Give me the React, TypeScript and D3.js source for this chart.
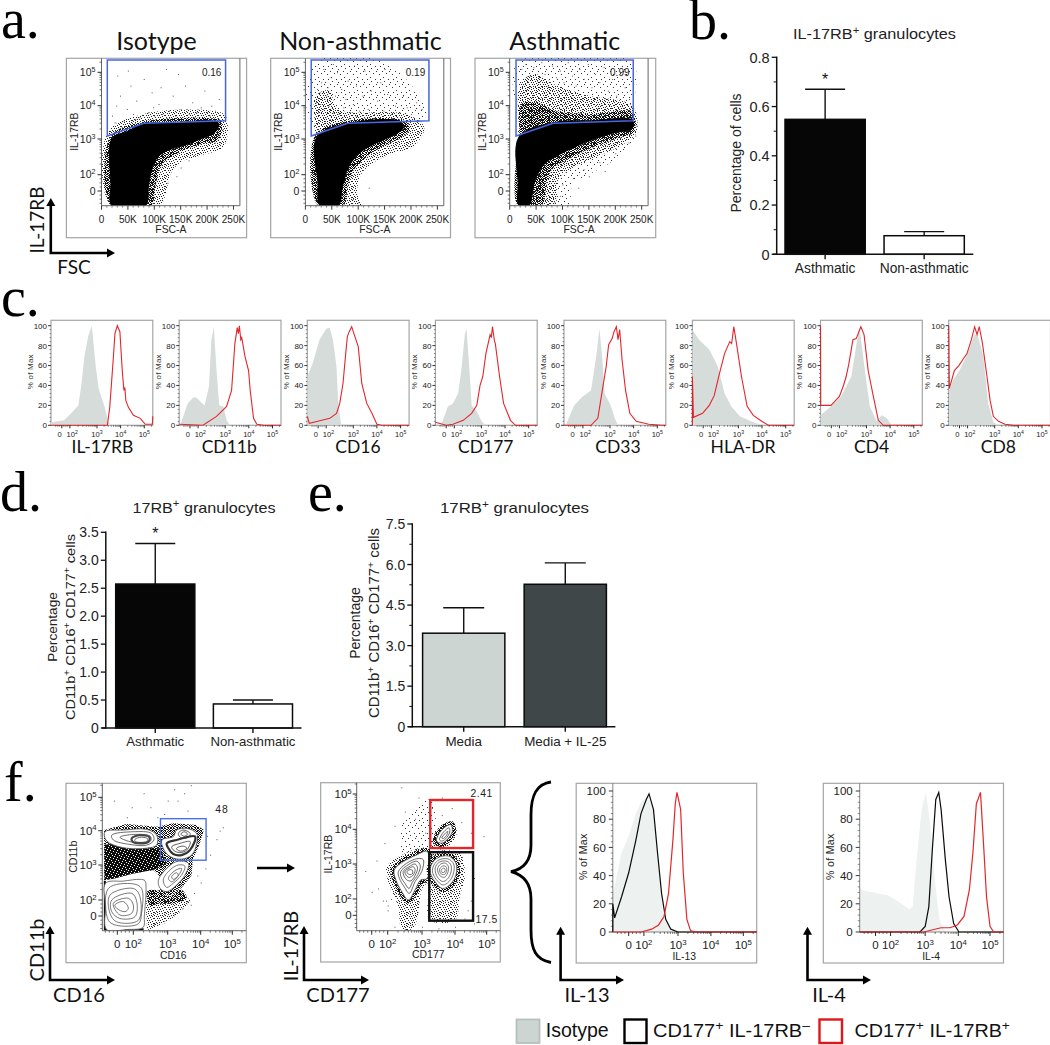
import React from "react";
import * as d3 from "d3";

type P = [number, number];

// ---------- Panel a data: FSC-A (thousands) vs IL-17RB (channel: 0 = 0, 1 = 10^2, 2 = 10^3 ...)
const fscTicks = [0, 50, 100, 150, 200, 250];
const aNames = ["Isotype", "Non-asthmatic", "Asthmatic"];
const aGateValues = ["0.16", "0.19", "0.99"];
const aGateIso: P[] = [[11, 2.09], [80, 2.47], [235, 2.55], [235, 4.37], [11, 4.37]];
const aGateNon: P[] = [[11, 2.09], [80, 2.47], [234, 2.55], [234, 4.37], [11, 4.37]];
const aGateAst: P[] = [[12, 2.09], [82, 2.47], [234, 2.55], [234, 4.37], [12, 4.37]];
const aCoreIso: P[] = [[20, 2.02], [48, 2.22], [79, 2.45], [143, 2.49], [206, 2.55], [222, 2.47], [216, 2.22], [183, 1.97], [159, 1.83], [127, 1.69], [107, 1.5], [95, 1.13], [89, 0.27], [83, -0.9], [20, -0.9], [18, 0.5]];
const aDenseIso: P[] = [[17, 2.07], [79, 2.52], [206, 2.62], [226, 2.55], [222, 2.0], [183, 1.83], [143, 1.6], [113, 1.25], [102, 0.27], [93, -0.9], [19, -0.9]];
const aMidIso: P[] = [[12, 2.2], [80, 2.75], [206, 2.85], [235, 2.7], [232, 1.8], [190, 1.55], [150, 1.35], [130, 1], [122, -0.14], [110, -0.9], [18, -0.9]];
const aCoreNon: P[] = [[22, 2.07], [82, 2.47], [181, 2.52], [185, 2.32], [161, 2.07], [133, 1.88], [102, 1.6], [82, 1.22], [70, 0.27], [62, -0.9], [28, -0.9], [24, 0.5]];
const aDenseNon: P[] = [[19, 2.12], [84, 2.55], [186, 2.55], [198, 2.32], [180, 2.02], [145, 1.78], [112, 1.45], [90, 1.1], [80, 0.2], [72, -0.9], [25, -0.9]];
const aMidNon: P[] = [[18, 2.3], [20, 3.3], [45, 3.45], [60, 2.9], [86, 2.8], [190, 2.75], [225, 2.35], [205, 1.8], [165, 1.6], [125, 1.3], [105, 1], [98, -0.14], [105, -0.9], [24, -0.9]];
const aSparseNon: P[] = [[18, 2.3], [18, 4.3], [150, 4.3], [225, 3], [225, 2.6]];
const aCoreAst: P[] = [[18, 2.07], [83, 2.49], [155, 2.55], [232, 2.57], [232, 2.32], [194, 2.17], [139, 1.88], [99, 1.6], [67, 1.32], [48, 0.67], [36, -0.9], [18, -0.9], [16, 0.5]];
const aDenseAst: P[] = [[18, 2.2], [22, 3.05], [50, 3.1], [85, 2.85], [155, 2.75], [232, 2.8], [235, 2.2], [210, 2.05], [155, 1.75], [107, 1.4], [83, 1.2], [71, 0.65], [60, -0.9], [16, -0.9]];
const aMidAst: P[] = [[18, 2.3], [20, 3.6], [45, 3.95], [90, 3.6], [150, 3.3], [232, 3.0], [240, 2.2], [215, 1.85], [165, 1.5], [120, 1.2], [92, 0.7], [85, -0.9], [40, -0.9]];
const aSparseAst: P[] = [[14, 2.6], [16, 4.3], [232, 4.3], [232, 2.6], [240, 2.2], [205, 1.5], [150, 1.0], [120, 0.5], [110, -0.9], [40, -0.9]];
const aDotsIso: P[] = [[20, 2.7], [28, 3.0], [35, 3.3], [42, 2.55], [48, 2.9], [55, 3.6], [60, 2.75], [66, 3.15], [72, 2.65], [80, 3.8], [88, 2.8], [95, 3.4], [100, 2.7], [108, 3.05], [115, 2.75], [122, 4.1], [128, 2.85], [135, 3.3], [140, 2.7], [150, 2.9], [158, 3.6], [165, 2.75], [172, 3.1], [180, 2.8], [188, 2.95], [195, 3.45], [200, 2.8], [208, 3.0], [215, 2.85], [222, 3.2], [30, 3.9], [50, 4.05], [112, 3.55], [145, 3.95], [25, 2.5], [64, 2.6], [98, 2.95], [130, 2.6], [176, 2.65], [205, 2.7], [142, 0.9], [175, 1.55], [215, 1.9], [222, 2.1], [230, 2.3], [165, 1.4], [150, 1.2], [125, 0.5]];
const aDotsNon: P[] = [[16, 2.4], [20, 3.1], [24, 2.8], [27, 3.4], [30, 3.7], [33, 2.9], [36, 3.2], [38, 2.65], [42, 3.55], [44, 3.0], [48, 3.85], [52, 2.8], [56, 3.3], [60, 4.0], [63, 2.75], [68, 3.5], [72, 2.95], [76, 3.2], [80, 3.75], [85, 2.8], [90, 3.05], [96, 3.6], [102, 2.85], [108, 3.3], [112, 4.05], [118, 2.9], [124, 3.45], [130, 2.75], [136, 3.15], [142, 3.7], [148, 2.85], [155, 3.35], [162, 2.75], [170, 3.0], [178, 2.8], [185, 3.3], [192, 2.95], [200, 2.75], [210, 3.1], [220, 2.9], [34, 4.1], [52, 4.25], [92, 4.2], [150, 4.1], [22, 3.5], [28, 3.05], [40, 3.3], [46, 2.6], [70, 2.65], [95, 2.7], [215, 2.2], [205, 2.0], [195, 1.8], [120, 0.2], [90, -0.5], [100, -0.7], [70, -0.8]];
const aDotsAst: P[] = [[22, 4.1], [30, 4.25], [38, 3.9], [45, 4.15], [52, 3.75], [60, 4.3], [66, 3.95], [72, 3.6], [80, 4.2], [88, 3.85], [95, 4.05], [102, 3.7], [110, 4.3], [118, 3.9], [125, 3.6], [132, 4.1], [140, 3.8], [148, 4.25], [155, 3.55], [162, 3.95], [170, 3.7], [178, 4.15], [186, 3.45], [194, 3.8], [202, 3.3], [210, 4.0], [218, 3.55], [226, 3.2], [240, 2.4], [238, 2.1], [225, 1.9], [200, 1.6], [170, 1.35], [140, 1.15], [120, 0.8], [100, 0.4], [95, -0.3], [130, 0.2], [150, 0.9], [180, 1.1], [85, -0.7], [110, -0.85]];

// ---------- Panel b / d / e bar data
const bCats = ["Asthmatic", "Non-asthmatic"];
const bVals = [0.548, 0.0755];
const bErrTop = [0.67, 0.092];
const bTicks = [0, 0.2, 0.4, 0.6, 0.8];
const bMinor = [0.1, 0.3, 0.5, 0.7];
const dCats = ["Asthmatic", "Non-asthmatic"];
const dVals = [2.575, 0.43];
const dErrTop = [3.3, 0.5];
const dTicks = [0, 0.5, 1, 1.5, 2, 2.5, 3, 3.5];
const eCats = ["Media", "Media + IL-25"];
const eVals = [3.46, 5.27];
const eErrTop = [4.4, 6.06];
const eTicks = [0, 1.5, 3, 4.5, 6, 7.5];
const eMinor = [0.75, 2.25, 3.75, 5.25, 6.75];

// ---------- Panel c histograms: [channel, % of max]
const cLabels = ["IL-17RB", "CD11b", "CD16", "CD177", "CD33", "HLA-DR", "CD4", "CD8"];
const c1Iso: P[] = [[-1.33, 3], [0.29, 5], [1.05, 12], [1.31, 20], [1.42, 40], [1.54, 70], [1.68, 90], [1.81, 100], [1.95, 60], [2.07, 37], [2.19, 28], [2.33, 18], [2.47, 4], [2.59, 0], [4.36, 0]];
const c1Red: P[] = [[-1.33, 0], [2.44, 0], [2.54, 18], [2.69, 67], [2.76, 92], [2.86, 100], [2.97, 94], [3.07, 55], [3.14, 35], [3.18, 38], [3.22, 25], [3.33, 18], [3.54, 10], [3.83, 7], [4.04, 1], [4.26, 1], [4.34, 1], [4.36, 9]];
const c2Iso: P[] = [[-1.2, 0], [-0.29, 22], [0.4, 28], [0.75, 28], [1.24, 20], [1.4, 39], [1.49, 86], [1.58, 99], [1.68, 55], [1.78, 20], [1.93, 19], [2.06, 5], [2.2, 0], [4.36, 0]];
const c2Red: P[] = [[-1.33, 1], [1.18, 0], [1.68, 9], [2.06, 19], [2.27, 35], [2.41, 82], [2.51, 98], [2.56, 92], [2.6, 100], [2.66, 86], [2.7, 88], [2.84, 69], [2.99, 55], [3.06, 35], [3.2, 7], [3.34, 1], [3.63, 0], [4.36, 0]];
const c3Iso: P[] = [[-1.33, 49], [-0.67, 62], [0.17, 86], [1, 97], [1.13, 98], [1.25, 86], [1.38, 59], [1.44, 25], [1.54, 2], [1.62, 0], [4.36, 0]];
const c3Red: P[] = [[-1.33, 9], [-1.08, 2], [-0.04, 4], [1.13, 7], [1.38, 12], [1.5, 22], [1.62, 42], [1.71, 69], [1.78, 89], [1.85, 94], [1.94, 99], [2.04, 91], [2.21, 79], [2.36, 42], [2.57, 22], [2.79, 12], [3, 1], [3.21, 0], [4.36, 0]];
const c4Iso: P[] = [[-0.63, 0], [0.21, 19], [0.83, 22], [1.14, 32], [1.26, 55], [1.39, 92], [1.45, 97], [1.55, 59], [1.64, 20], [1.83, 14], [2.01, 4], [2.16, 0], [4.36, 0]];
const c4Red: P[] = [[-1.33, 3], [0, 0], [0.83, 1], [1.33, 5], [1.64, 12], [1.83, 20], [1.95, 40], [2.06, 49], [2.19, 72], [2.37, 91], [2.42, 88], [2.47, 99], [2.55, 85], [2.59, 82], [2.77, 49], [2.94, 22], [3.23, 5], [3.44, 0], [4.36, 0]];
const c5Iso: P[] = [[-1.12, 0], [-0.08, 20], [0.96, 29], [1.3, 35], [1.49, 69], [1.61, 97], [1.71, 69], [1.8, 32], [2.03, 20], [2.2, 7], [2.34, 0], [4.36, 0]];
const c5Red: P[] = [[-1.33, 0], [1.3, 0], [1.55, 7], [1.74, 39], [1.86, 59], [1.95, 81], [2.09, 87], [2.17, 94], [2.27, 99], [2.34, 86], [2.41, 96], [2.51, 66], [2.66, 35], [2.84, 12], [3.11, 4], [3.64, 1], [4.2, 0], [4.36, 0]];
const c6Iso: P[] = [[-1.33, 96], [-0.5, 86], [0.75, 76], [1.24, 59], [1.49, 32], [1.74, 19], [2.06, 9], [2.63, 3], [3.06, 0], [4.36, 0]];
const c6Red: P[] = [[-1.33, 0], [-1.33, 49], [-1.2, 8], [-0.08, 12], [0.75, 20], [1.11, 30], [1.3, 52], [1.49, 72], [1.68, 84], [1.75, 82], [1.83, 99], [1.93, 82], [2.13, 49], [2.37, 19], [2.63, 10], [2.99, 4], [3.27, 0], [4.36, 0]];
const c7Iso: P[] = [[-1.33, 10], [-0.04, 19], [1.06, 29], [1.44, 49], [1.69, 92], [1.75, 97], [1.94, 55], [2.14, 19], [2.43, 4], [2.64, 10], [2.86, 7], [3.07, 0], [4.36, 0]];
const c7Red: P[] = [[-1.33, 100], [-1.3, 20], [-1.2, 20], [-0.04, 20], [1, 29], [1.15, 40], [1.25, 49], [1.35, 62], [1.5, 86], [1.62, 87], [1.79, 99], [1.91, 91], [2.07, 55], [2.29, 29], [2.5, 5], [2.71, 0], [4.36, 0]];
const c8Iso: P[] = [[-1.25, 35], [-0.83, 45], [0, 55], [0.83, 69], [1.26, 92], [1.39, 89], [1.58, 69], [1.76, 22], [1.95, 3], [2.16, 0], [4.36, 0]];
const c8Red: P[] = [[-1.33, 100], [-1.25, 37], [-0.63, 55], [-0.08, 60], [0.42, 66], [0.92, 72], [1.14, 86], [1.26, 99], [1.35, 91], [1.43, 99], [1.55, 82], [1.7, 52], [1.83, 25], [1.95, 9], [2.16, 4], [2.44, 1], [2.8, 0], [4.36, 0]];
const cIsoSeries = [c1Iso, c2Iso, c3Iso, c4Iso, c5Iso, c6Iso, c7Iso, c8Iso];
const cRedSeries = [c1Red, c2Red, c3Red, c4Red, c5Red, c6Red, c7Red, c8Red];

// ---------- Panel f histograms
const il13Iso: P[] = [[-1.05, 27], [-0.81, 39], [-0.47, 56], [0, 68], [0.47, 84], [0.81, 92], [1.12, 97], [1.28, 86], [1.43, 46], [1.54, 16], [1.64, 9], [1.79, 1], [1.95, 0], [4.41, 0]];
const il13Black: P[] = [[-1.05, 0], [-1.05, 20], [-0.93, 10], [-0.47, 25], [0, 42], [0.47, 65], [0.81, 84], [1.07, 94], [1.15, 98], [1.28, 87], [1.4, 56], [1.52, 27], [1.64, 9], [1.79, 2], [2, 0], [4.41, 0]];
const il13Red: P[] = [[-1.05, 0], [0.81, 0], [1.23, 2], [1.43, 5], [1.59, 11], [1.72, 27], [1.85, 65], [1.92, 91], [1.97, 99], [2.08, 87], [2.16, 42], [2.27, 9], [2.38, 1], [2.54, 0], [4.41, 0]];
const il4Iso: P[] = [[-1.05, 31], [-0.7, 29], [-0.12, 28], [0.3, 27], [0.81, 26], [1.23, 21.5], [1.54, 16], [1.64, 18], [1.74, 49], [1.9, 87], [2.02, 99], [2.14, 79], [2.29, 37], [2.43, 9], [2.54, 3], [2.65, 0], [4.41, 0]];
const il4Black: P[] = [[-1.05, 0], [1.85, 0], [2, 4], [2.11, 18], [2.22, 60], [2.32, 94], [2.41, 99], [2.48, 87], [2.61, 51], [2.72, 25], [2.86, 6], [3.02, 0], [4.41, 0]];
const il4Red: P[] = [[-1.05, 0], [1.95, 0], [2.48, 3], [2.75, 3], [2.97, 5], [3.18, 11], [3.35, 30], [3.46, 56], [3.57, 91], [3.62, 94], [3.7, 99], [3.8, 61], [3.89, 25], [4, 4], [4.11, 0], [4.41, 0]];

// ---------- Panel f contour plots (channels)
const f1Gate = { x: [1.79, 3.17], y: [2.14, 3.36] };
const f1Dark: P[] = [[-0.83, 3.02], [0.58, 3.2], [1.68, 3.12], [2.17, 3.22], [2.88, 3.17], [3.1, 3.02], [2.97, 2.63], [2.76, 2.15], [2.72, 1.7], [2.42, 1.35], [2.07, 1.12], [1.75, 1.2], [1.75, 1.7], [1.58, 1.86], [1, 1.76], [-0.25, 1.61], [-0.83, 1.57]];
const f1BlackZone: P[] = [[-0.8, 2.6], [0.17, 2.63], [1.29, 2.49], [1.78, 2.49], [1.97, 2.05], [1.58, 1.86], [1, 1.76], [-0.25, 1.61], [-0.8, 1.57]];
const f1LowDark: P[] = [[1.42, 1.27], [1.75, 1.27], [2.05, 1.1], [2.4, 1.3], [2.58, 1.05], [2.2, 0.8], [1.7, 0.75], [1.5, 0.6], [1.42, 0.9]];
const f1Low: P[] = [[1.39, 1.27], [2.4, 1.25], [2.7, 0.95], [2.35, 0.2], [1.95, -0.4], [1.4, -0.85], [1.37, 0.5]];
const f1Edge: P[] = [[-0.78, 1.55], [-0.78, -0.8], [1.3, -0.8]];
const f1Bridge: P[] = [[1.29, 1.6], [1.78, 1.68], [1.78, 1.3], [1.29, 1.3]];
const f1TopBand: P[][] = [
  [[-0.77, 2.97], [0.38, 3.02], [1.39, 3.04], [1.68, 2.87], [1.68, 2.58], [1.39, 2.49], [0.58, 2.49], [-0.46, 2.63], [-0.77, 2.78]],
  [[-0.35, 2.87], [1, 2.97], [1.53, 2.92], [1.6, 2.73], [1.39, 2.58], [0.79, 2.6], [-0.25, 2.73]],
  [[0.17, 2.81], [1, 2.89], [1.49, 2.84], [1.51, 2.71], [1.29, 2.65], [0.79, 2.68]],
  [[0.9, 2.78], [1.19, 2.87], [1.47, 2.81], [1.44, 2.68], [1.19, 2.63], [0.96, 2.68]],
  [[1.05, 2.75], [1.24, 2.81], [1.42, 2.76], [1.39, 2.69], [1.19, 2.66], [1.05, 2.69]],
];
const f1GateCluster: P[][] = [
  [[1.83, 2.73], [2.17, 2.83], [2.27, 3.02], [2.58, 3.07], [2.88, 2.92], [2.88, 2.63], [2.73, 2.29], [2.42, 2.17], [2.12, 2.22], [1.92, 2.39]],
  [[2.32, 2.92], [2.47, 3.02], [2.68, 2.92], [2.63, 2.81], [2.42, 2.78]],
  [[2.4, 2.9], [2.5, 2.97], [2.6, 2.9], [2.5, 2.84]],
  [[1.97, 2.63], [2.27, 2.73], [2.83, 2.83], [2.68, 2.44], [2.42, 2.29], [2.17, 2.32], [2.02, 2.49]],
  [[2.12, 2.53], [2.37, 2.63], [2.68, 2.68], [2.58, 2.44], [2.37, 2.36], [2.19, 2.42]],
  [[2.27, 2.49], [2.47, 2.55], [2.58, 2.49], [2.45, 2.41], [2.32, 2.42]],
];
const f1MidCluster: P[][] = [
  [[1.73, 1.57], [1.97, 1.9], [2.27, 2.1], [2.63, 2.05], [2.52, 1.71], [2.27, 1.43], [1.97, 1.24], [1.78, 1.33]],
  [[1.87, 1.57], [2.07, 1.86], [2.32, 2], [2.52, 1.97], [2.42, 1.71], [2.17, 1.48], [1.97, 1.36]],
  [[2.02, 1.62], [2.22, 1.84], [2.42, 1.9], [2.32, 1.69], [2.12, 1.52]],
  [[2.12, 1.67], [2.27, 1.78], [2.32, 1.71], [2.17, 1.59]],
];
const f1LowCluster: P[][] = [
  [[-0.73, 1.48], [0.38, 1.54], [1.2, 1.59], [1.34, 1.55], [1.37, 1.29], [1.32, 0], [1.29, -0.67], [0.58, -0.81], [-0.67, -0.81], [-0.73, 0.58]],
  [[-0.56, 1.33], [1, 1.46], [1.24, 1.33], [1.24, 0.17], [1.15, -0.46], [-0.04, -0.56], [-0.56, -0.25]],
  [[-0.46, 1.14], [1, 1.33], [1.18, 1.14], [1.15, -0.25], [-0.04, -0.35], [-0.46, 0.17]],
  [[-0.35, 1], [0.9, 1.19], [1.1, 0.9], [1.05, -0.04], [0.17, -0.15], [-0.35, 0.27]],
  [[-0.25, 0.79], [0.69, 1.05], [1, 0.69], [0.9, 0.17], [0.17, 0.06]],
  [[-0.15, 0.69], [0.38, 0.9], [0.69, 0.48], [0.48, 0.27], [-0.04, 0.48]],
];
const f1Dots: P[] = [[1.3, 4.1], [1.5, 3.7], [1.9, 3.5], [2.2, 4.2], [2.3, 3.9], [2.5, 4.1], [2.6, 3.6], [2.7, 4.3], [1.7, 3.4], [2.0, 3.9], [3.6, 3.0], [3.2, 2.85], [3.5, 2.75], [3.7, 3.1], [0.6, 3.4], [0.9, 3.7], [-0.2, 3.9], [3.3, 2.3], [3.15, 1.9], [2.9, 1.7], [2.8, 1.2], [2.6, 0.9], [2.45, 0.5], [2.2, 0.1], [1.9, -0.3], [1.6, -0.5], [2.7, 0.7], [3, 1.5]];
const f2GateRed = { x: [2.25, 3.57], y: [2.46, 3.83] };
const f2GateBlack = { x: [2.22, 3.57], y: [-0.33, 2.34] };
const f2HaloLeft: P[] = [[0.94, 1.92], [1.41, 2.26], [2.14, 2.45], [2.19, 1.54], [1.99, 1.26], [1.89, 0.12], [1.74, -0.8], [1.41, -0.8], [1.31, 0.53], [1.06, 1.35]];
const f2HaloRight: P[] = [[2.19, 2.26], [3.15, 2.31], [3.31, 1.64], [3.15, 1.07], [3, -0.29], [2.24, -0.29], [2.19, 1.26]];
const f2HaloUp: P[] = [[2.29, 2.5], [2.54, 3.08], [2.95, 3.22], [3.05, 2.88], [2.75, 2.45]];
const f2Scatter: P[] = [[1.41, 3.08], [2.24, 3.84], [2.34, 2.5], [1.56, 2.12]];
const f2LeftCluster: P[][] = [
  [[1.19, 1.83], [1.46, 2.07], [1.84, 2.26], [2.16, 2.36], [2.16, 1.59], [1.96, 1.54], [1.8, 1.26], [1.6, 0.94], [1.41, 1.21], [1.24, 1.54]],
  [[1.31, 1.78], [1.55, 2.02], [1.89, 2.16], [2.04, 2.12], [1.99, 1.78], [1.8, 1.5], [1.63, 1.16], [1.48, 1.35], [1.34, 1.59]],
  [[1.38, 1.78], [1.6, 1.98], [1.85, 2.08], [1.95, 1.95], [1.88, 1.7], [1.72, 1.48], [1.62, 1.3], [1.5, 1.45], [1.4, 1.6]],
  [[1.45, 1.78], [1.62, 1.92], [1.8, 2.0], [1.87, 1.88], [1.8, 1.68], [1.68, 1.52], [1.55, 1.55]],
  [[1.5, 1.78], [1.63, 1.88], [1.75, 1.92], [1.8, 1.82], [1.72, 1.66], [1.6, 1.62]],
  [[1.56, 1.78], [1.65, 1.84], [1.72, 1.82], [1.72, 1.72], [1.62, 1.7]],
];
const f2RightCluster: P[][] = [
  [[2.26, 1.92], [2.44, 2.16], [2.8, 2.23], [3.03, 2.02], [3.03, 1.69], [2.87, 1.43], [2.63, 1.3], [2.39, 1.5], [2.26, 1.73]],
  [[2.33, 1.9], [2.48, 2.1], [2.78, 2.15], [2.96, 2], [2.95, 1.72], [2.82, 1.5], [2.63, 1.4], [2.43, 1.56], [2.33, 1.73]],
  [[2.4, 1.88], [2.52, 2.05], [2.76, 2.08], [2.88, 1.96], [2.87, 1.74], [2.76, 1.56], [2.63, 1.5], [2.47, 1.62]],
  [[2.47, 1.86], [2.57, 2], [2.72, 2.02], [2.8, 1.92], [2.78, 1.75], [2.68, 1.62], [2.55, 1.66]],
  [[2.53, 1.84], [2.62, 1.94], [2.72, 1.93], [2.75, 1.82], [2.68, 1.7], [2.58, 1.72]],
  [[2.58, 1.82], [2.65, 1.88], [2.7, 1.85], [2.68, 1.77], [2.61, 1.76]],
];
const f2UpperCluster: P[][] = [
  [[2.44, 2.67], [2.6, 2.98], [2.87, 3.13], [2.92, 2.94], [2.75, 2.69], [2.6, 2.6]],
  [[2.53, 2.7], [2.66, 2.93], [2.82, 3.04], [2.84, 2.92], [2.72, 2.73], [2.6, 2.66]],
  [[2.6, 2.75], [2.7, 2.88], [2.78, 2.94], [2.76, 2.86], [2.66, 2.74]],
];
const f2Dots: P[] = [[-0.4, 1.8], [0.4, 1.3], [0.7, 0.9], [1.0, 0.3], [0.3, 2.1], [0.8, 2.6], [1.2, 3.1], [1.5, 3.5], [1.8, 3.3], [1.9, 3.9], [2.1, 2.9], [1.4, 4.2], [2.3, 3.6], [2.6, 3.4], [3.2, 3.2], [3.5, 2.9], [3.9, 2.8], [3.6, 1.6], [3.5, 0.9], [3.4, 0.3], [3.3, -0.2], [3.6, -0.5], [1.2, -0.7], [1.5, -0.85], [1.7, -0.6], [2, -0.7], [2.5, -0.8], [3, -0.7], [0.9, 0.9], [1, 0.6], [1.1, 1], [0, 1.2], [2.9, 3.6], [2.6, 3.9]];

// ---------- shared labels
const decades = [0, 1, 2, 3, 4];
const pctTicks = [0, 20, 40, 60, 80, 100];
const serif = "'Liberation Serif', serif";
const sans = "'Liberation Sans', Arial, sans-serif";
const calibri = "Lato, sans-serif";
const RED = "#e3262b";
const ISO = "#d5dcda";
const FRAME = "#a3a5a5";

// stipple textures (style only): occupied cells per row of a tile
const denseRows = [[0, 2, 3, 6, 8], [1, 4, 5, 7], [0, 2, 3, 6, 8], [1, 3, 5, 7, 8], [0, 2, 4, 6], [1, 3, 4, 7, 8], [0, 2, 5, 6], [1, 3, 4, 7], [0, 2, 5, 6, 8]];
const midRows = [[1, 5, 8], [3, 10], [0, 6, 8], [2, 4, 9], [7], [0, 3, 5, 10], [8], [1, 4, 6], [9], [2, 5, 7], [0, 3, 10]];
const sparseRows = [[], [3, 11], [], [7], [0], [], [5, 12], [], [9], [2], [], [], [6]];
const whiteSpecks = [[0, 1], [3, 0], [5, 3], [1, 4], [4, 5], [2, 2], [6, 6]];

const minorChannels = (() => {
  const out: number[] = [-0.75, -0.5, -0.25, 0.25, 0.5, 0.75];
  for (let n = 1; n <= 4; n++) for (let m = 2; m <= 9; m++) out.push(n + Math.log10(m));
  return out;
})();

const closedLine = (x: any, y: any) => d3.line<P>().x((d) => x(d[0])).y((d) => y(d[1])).curve(d3.curveLinearClosed);
const smoothLine = (x: any, y: any) => d3.line<P>().x((d) => x(d[0])).y((d) => y(d[1])).curve(d3.curveCatmullRomClosed.alpha(0.5));

function Tile({ id, rows, fill = "#111" }: any) {
  return (
    <pattern id={id} width={rows.length} height={rows.length} patternUnits="userSpaceOnUse">
      {rows.map((r: number[], b: number) => r.map((a: number) => (
        <rect key={`${a}-${b}`} x={a} y={b} width={1} height={1} fill={fill} />
      )))}
    </pattern>
  );
}

function Exp({ x, y, e, fs, anchor = "middle", fill = "#222" }: any) {
  return (
    <text x={x} y={y} fontSize={fs} fontFamily={sans} textAnchor={anchor} fill={fill}>
      10<tspan dy={-fs * 0.38} fontSize={fs * 0.68}>{e}</tspan>
    </text>
  );
}

function DecadeY({ y, x, labelX, fs, tick = 4 }: any) {
  const [lo, hi] = [y.domain()[0], y.domain()[y.domain().length - 1]];
  return (
    <g>
      {minorChannels.filter((u) => u > lo && u < hi).map((u) => (
        <line key={u} x1={x - tick / 2} x2={x} y1={y(u)} y2={y(u)} stroke="#222" strokeWidth={0.6} />
      ))}
      {decades.map((u) => (
        <g key={u}>
          <line x1={x - tick} x2={x} y1={y(u)} y2={y(u)} stroke="#111" strokeWidth={0.9} />
          {u === 0 ? (
            <text x={labelX} y={y(u) + fs * 0.36} fontSize={fs} fontFamily={sans} textAnchor="end" fill="#222">0</text>
          ) : (
            <Exp x={labelX} y={y(u) + fs * 0.36} e={u + 1} fs={fs} anchor="end" />
          )}
        </g>
      ))}
    </g>
  );
}

function DecadeX({ x, y, labelY, fs, tick = 4, nudge = 0 }: any) {
  const dom = x.domain();
  const [lo, hi] = [dom[0], dom[dom.length - 1]];
  return (
    <g>
      {minorChannels.filter((u) => u > lo && u < hi).map((u) => (
        <line key={u} y1={y} y2={y + tick / 2} x1={x(u)} x2={x(u)} stroke="#222" strokeWidth={0.6} />
      ))}
      {decades.map((u) => (
        <g key={u}>
          <line y1={y} y2={y + tick} x1={x(u)} x2={x(u)} stroke="#111" strokeWidth={0.9} />
          {u === 0 ? (
            <text x={x(u) - nudge} y={labelY} fontSize={fs} fontFamily={sans} textAnchor="middle" fill="#222">0</text>
          ) : (
            <Exp x={x(u) + (u === 1 ? nudge : 0)} y={labelY} e={u + 1} fs={fs} />
          )}
        </g>
      ))}
    </g>
  );
}

function PctY({ y, x, labelX, fs, tick }: any) {
  return (
    <g>
      {d3.range(0, 101, 4).map((v) => (
        <line key={v} x1={x - (v % 20 === 0 ? tick : tick / 2)} x2={x} y1={y(v)} y2={y(v)} stroke="#222" strokeWidth={v % 20 === 0 ? 0.9 : 0.5} />
      ))}
      {pctTicks.map((v) => (
        <text key={v} x={labelX} y={y(v) + fs * 0.36} fontSize={fs} fontFamily={sans} textAnchor="end" fill="#222">{v}</text>
      ))}
    </g>
  );
}

function LArrow({ x, y, top, right, sw = 2.6 }: any) {
  return (
    <g fill="#000">
      <path d={`M${x},${top + 6}V${y}H${right - 6}`} fill="none" stroke="#000" strokeWidth={sw} />
      <polygon points={`${x},${top} ${x - 4.5},${top + 8} ${x + 4.5},${top + 8}`} />
      <polygon points={`${right},${y} ${right - 8},${y - 4.5} ${right - 8},${y + 4.5}`} />
    </g>
  );
}

function Dots({ data, x, y, size = 0.9 }: any) {
  return (
    <g fill="#333">
      {data.map((d: P, i: number) => (
        <rect key={i} x={x(d[0])} y={y(d[1])} width={size} height={size} />
      ))}
    </g>
  );
}

function ScatterPanel({ idx, left, frameL, frameR, gate, core, dense, mid, sparse, dots, name, value }: any) {
  const x = d3.scaleLinear().domain([0, 262.144]).range([left, left + 138.4]);
  const y = d3.scaleLinear().domain([-0.9, 0, 1, 2, 3, 4, 4.42]).range([205.7, 191, 174.7, 139, 105.7, 72.3, 58.3]);
  const line = closedLine(x, y);
  const sm = smoothLine(x, y);
  const clip = `a-clip-${idx}`;
  return (
    <g>
      <rect x={frameL} y={58.3} width={frameR - frameL} height={179.4} fill="#fff" stroke={FRAME} strokeWidth={1.2} />
      <defs>
        <clipPath id={clip}><rect x={left} y={58.3} width={138.4} height={147.4} /></clipPath>
      </defs>
      <g clipPath={`url(#${clip})`}>
        <g filter="url(#soft)">
          {sparse && <path d={sm(sparse) as string} fill="url(#stippleSparse)" />}
          {mid && <path d={sm(mid) as string} fill="url(#stippleMid)" />}
          <path d={sm(dense) as string} fill="url(#stippleDense)" />
          <path d={sm(core) as string} fill="#060606" stroke="#060606" />
          <Dots data={dots} x={x} y={y} />
        </g>
      </g>
      <path d={`M${left},58.3V205.7H${left + 138.4}V58.3`} fill="none" stroke="#666" strokeWidth={1} />
      <path d={line(gate) as string} fill="none" stroke="#4766e0" strokeWidth={1.5} />
      <DecadeY y={y} x={left} labelX={left - 6} fs={10.5} />
      {d3.range(0, 251, 10).map((k) => (
        <line key={k} x1={x(k)} x2={x(k)} y1={205.7} y2={k % 50 === 0 ? 209.7 : 207.7} stroke="#222" strokeWidth={k % 50 === 0 ? 0.9 : 0.5} />
      ))}
      {fscTicks.map((k) => (
        <text key={k} x={x(k)} y={223} fontSize={10} fontFamily={sans} textAnchor="middle" fill="#222">{k === 0 ? "0" : `${k}K`}</text>
      ))}
      <text x={left + 69.4} y={233.3} fontSize={10.4} fontFamily={sans} textAnchor="middle" fill="#222">FSC-A</text>
      <text transform={`translate(${left - 23.5},131.7) rotate(-90)`} fontSize={10.4} fontFamily={sans} textAnchor="middle" fill="#222">IL-17RB</text>
      <text x={x(227)} y={76} fontSize={10} fontFamily={sans} textAnchor="end" fill="#222">{value}</text>
      <text x={left + 55} y={50} fontSize={25} fontFamily={calibri} textAnchor="middle" fill="#111">{name}</text>
    </g>
  );
}

function Bars({ cats, vals, errTop, range, y, barFill, stroke = 1.5, axisX, axisRight, ticks, minor, fs, capHalf, star, labelY, labelFs }: any) {
  const x = d3.scaleBand<string>().domain(cats).range(range).paddingInner(0.19).paddingOuter(0);
  const y0 = y(0);
  return (
    <g>
      {cats.map((c: string, i: number) => {
        const cx = (x(c) as number) + x.bandwidth() / 2;
        return (
          <g key={c}>
            <line x1={cx} x2={cx} y1={y(vals[i])} y2={y(errTop[i])} stroke="#111" strokeWidth={1.4} />
            <line x1={cx - capHalf} x2={cx + capHalf} y1={y(errTop[i])} y2={y(errTop[i])} stroke="#111" strokeWidth={1.4} />
            <rect x={x(c)} y={y(vals[i])} width={x.bandwidth()} height={y0 - y(vals[i])} fill={barFill[i]} stroke="#0a0a0a" strokeWidth={stroke} />
            <line x1={cx} x2={cx} y1={y0} y2={y0 + 5} stroke="#111" strokeWidth={1.4} />
            <text x={cx} y={labelY} fontSize={labelFs} fontFamily={sans} textAnchor="middle" fill="#222">{c}</text>
            {star && i === 0 && <text x={cx} y={y(errTop[i]) - 4} fontSize={16} fontFamily={sans} textAnchor="middle" fill="#111">*</text>}
          </g>
        );
      })}
      <line x1={axisX} x2={axisX} y1={y(ticks[ticks.length - 1]) - 0.7} y2={y0 + 0.7} stroke="#111" strokeWidth={1.5} />
      <line x1={axisX - 4} x2={axisRight} y1={y0} y2={y0} stroke="#111" strokeWidth={1.5} />
      {ticks.map((t: number) => (
        <g key={t}>
          <line x1={axisX - 5} x2={axisX} y1={y(t)} y2={y(t)} stroke="#111" strokeWidth={1.3} />
          <text x={axisX - 7} y={y(t) + fs * 0.36} fontSize={fs} fontFamily={sans} textAnchor="end" fill="#222">{t === 0 ? "0" : t.toFixed(1)}</text>
        </g>
      ))}
      {(minor || []).map((t: number) => (
        <line key={t} x1={axisX - 3} x2={axisX} y1={y(t)} y2={y(t)} stroke="#111" strokeWidth={1} />
      ))}
    </g>
  );
}

function Histo({ left, iso, red, label, labelX }: any) {
  const x = d3.scaleLinear().domain([-1.33, 0, 1, 2, 3, 4, 4.36]).range([left, left + 10.8, left + 18.9, left + 46, left + 69.6, left + 93.3, left + 101.8]);
  const y = d3.scaleLinear().domain([0, 100]).range([425.3, 325.7]);
  const area = d3.area<P>().x((d) => x(d[0])).y0(y(0)).y1((d) => y(d[1]));
  const line = d3.line<P>().x((d) => x(d[0])).y((d) => y(d[1]));
  return (
    <g>
      <rect x={left} y={320.3} width={101.8} height={105} fill="#fff" stroke={FRAME} strokeWidth={1.2} />
      <path d={area(iso) as string} fill={ISO} />
      <path d={line(red) as string} fill="none" stroke={RED} strokeWidth={1.1} />
      <PctY y={y} x={left} labelX={left - 4} fs={8} tick={3} />
      <DecadeX x={x} y={425.3} labelY={437} fs={7.6} tick={3} nudge={2.2} />
      <text transform={`translate(${left - 18.5},371.7) rotate(-90)`} fontSize={8} fontFamily={sans} textAnchor="middle" letterSpacing={0.2} fill="#333">% of Max</text>
      <text x={labelX} y={452.7} fontSize={17.5} fontFamily={calibri} textAnchor="middle" fill="#111">{label}</text>
    </g>
  );
}

function Contours({ rings, x, y, heavy = [] as number[], halo = true, color = "#2c2c2c" }: any) {
  const sm = smoothLine(x, y);
  return (
    <g>
      {halo && <path d={sm(rings[0]) as string} fill="none" stroke="url(#stippleDense)" strokeWidth={7} />}
      {rings.map((r: P[], i: number) => (
        <path key={i} d={sm(r) as string} fill="#fff" fillOpacity={i === 0 ? 1 : 0} stroke={color} strokeWidth={heavy.includes(i) ? 2.2 : 0.8} />
      ))}
    </g>
  );
}

function FlowHist({ left, plotLeft, right, iso, black, red, label, knots }: any) {
  const x = d3.scaleLinear().domain([-1.05, 0, 1, 2, 3, 4, 4.41]).range(knots);
  const y = d3.scaleLinear().domain([0, 100]).range([932, 791]);
  const area = d3.area<P>().x((d) => x(d[0])).y0(y(0)).y1((d) => y(d[1]));
  const line = d3.line<P>().x((d) => x(d[0])).y((d) => y(d[1]));
  return (
    <g>
      <rect x={left} y={783.3} width={right - left} height={179.7} fill="#fff" stroke={FRAME} strokeWidth={1.2} />
      <path d={area(iso) as string} fill="#edf1ef" />
      <path d={`M${plotLeft},783.3V932H${right}`} fill="none" stroke="#666" strokeWidth={0.8} />
      <path d={line(black) as string} fill="none" stroke="#0a0a0a" strokeWidth={1.2} />
      <path d={line(red) as string} fill="none" stroke={RED} strokeWidth={1.2} />
      <PctY y={y} x={plotLeft} labelX={plotLeft - 7} fs={11.5} tick={4} />
      <DecadeX x={x} y={932} labelY={949} fs={11.5} tick={4} />
      <text transform={`translate(${plotLeft - 26},856.7) rotate(-90)`} fontSize={10.6} fontFamily={sans} textAnchor="middle" letterSpacing={0.3} fill="#222">% of Max</text>
      <text x={(plotLeft + right) / 2 - 0.5} y={960} fontSize={10.4} fontFamily={sans} textAnchor="middle" fill="#222">{label}</text>
    </g>
  );
}

function Sup({ children, fs }: any) {
  return <tspan fontSize={fs * 0.7} dy={-fs * 0.36}>{children}</tspan>;
}
const Down = ({ fs, children }: any) => <tspan dy={fs * 0.36}>{children}</tspan>;

function PctLabel({ x1, x2, cy, fs, len }: any) {
  return (
    <g fontFamily={sans} fill="#222" fontSize={fs}>
      <text transform={`translate(${x1},${cy}) rotate(-90)`} textAnchor="middle">Percentage</text>
      <text transform={`translate(${x2},${cy}) rotate(-90)`} textAnchor="middle" textLength={len} lengthAdjust="spacingAndGlyphs">
        CD11b<Sup fs={fs}>+</Sup><Down fs={fs}> CD16</Down><Sup fs={fs}>+</Sup><Down fs={fs}> CD177</Down><Sup fs={fs}>+</Sup><Down fs={fs}> cells</Down>
      </text>
    </g>
  );
}

export default function App() {
  const by = d3.scaleLinear().domain([0, 0.8]).range([254.3, 57.3]);
  const dy = d3.scaleLinear().domain([0, 3.5]).range([728, 532.3]);
  const ey = d3.scaleLinear().domain([0, 7.5]).range([726.7, 524]);

  const f1x = d3.scaleLinear().domain([-0.94, 0, 1, 2, 3, 4, 4.44]).range([102.3, 117.3, 133.3, 167.7, 200.7, 232.3, 246.3]);
  const f1y = d3.scaleLinear().domain([-0.88, 0, 1, 2, 3, 4, 4.35]).range([930.7, 916, 900, 865, 830.7, 797.3, 783.3]);
  const f2x = d3.scaleLinear().domain([-0.94, 0, 1, 2, 3, 4, 4.43]).range([356.7, 371.7, 387.7, 422, 455, 486.7, 500.3]);
  const f2y = d3.scaleLinear().domain([-0.94, 0, 1, 2, 3, 4, 4.34]).range([930.7, 915.3, 899, 864, 829.3, 794, 782.7]);
  const f1s = smoothLine(f1x, f1y);
  const f1l = closedLine(f1x, f1y);
  const f2s = smoothLine(f2x, f2y);

  const cLefts = [51, 179.2, 307.3, 435.4, 564, 692.4, 820.5, 948.7];
  const cLabelX = [102.4, 229.2, 358, 485.8, 618, 743, 871.6, 998.4];

  return (
    <div style={{ position: "absolute", left: 0, top: 0, width: 1050, height: 1045, background: "#fff" }}>
      <svg width={1050} height={1045} viewBox="0 0 1050 1045" style={{ display: "block" }}>
        <defs>
          <Tile id="stippleDense" rows={denseRows} />
          <Tile id="stippleMid" rows={midRows} fill="#222" />
          <Tile id="stippleSparse" rows={sparseRows} fill="#333" />
          <pattern id="stippleBlack" width={7} height={7} patternUnits="userSpaceOnUse">
            <rect width={7} height={7} fill="#0a0a0a" />
            {whiteSpecks.map(([a, b], i) => (
              <rect key={i} x={a} y={b} width={1} height={1} fill="#fff" />
            ))}
          </pattern>
          <filter id="soft" x="-5%" y="-5%" width="110%" height="110%">
            <feGaussianBlur stdDeviation={0.45} />
          </filter>
          <filter id="softer" x="-5%" y="-5%" width="110%" height="110%">
            <feGaussianBlur stdDeviation={0.3} />
          </filter>
          <clipPath id="f1clip"><rect x={102.3} y={783.3} width={144} height={147.4} /></clipPath>
          <clipPath id="f2clip"><rect x={356.7} y={782.7} width={143.6} height={148} /></clipPath>
        </defs>

        {/* panel letters */}
        <g fontFamily={serif} fontSize={56} fill="#000">
          <text x={1} y={38}>a.</text>
          <text x={689} y={39}>b.</text>
          <text x={1} y={316}>c.</text>
          <text x={0} y={511}>d.</text>
          <text x={308} y={511}>e.</text>
          <text x={4} y={801}>f.</text>
        </g>

        {/* a */}
        <ScatterPanel idx={0} left={101.5} frameL={66.4} frameR={246.6} gate={aGateIso} core={aCoreIso} dense={aDenseIso} mid={aMidIso} dots={aDotsIso} name={aNames[0]} value={aGateValues[0]} />
        <ScatterPanel idx={1} left={305.4} frameL={270.7} frameR={450.5} gate={aGateNon} core={aCoreNon} dense={aDenseNon} mid={aMidNon} sparse={aSparseNon} dots={aDotsNon} name={aNames[1]} value={aGateValues[1]} />
        <ScatterPanel idx={2} left={509.7} frameL={475} frameR={655.7} gate={aGateAst} core={aCoreAst} dense={aDenseAst} mid={aMidAst} sparse={aSparseAst} dots={aDotsAst} name={aNames[2]} value={aGateValues[2]} />
        <LArrow x={50.8} y={253} top={198} right={115} sw={2.6} />
        <text transform="translate(44,220) rotate(-90)" fontSize={19} fontFamily={calibri} textAnchor="middle" fill="#111">IL-17RB</text>
        <text x={74} y={274} fontSize={19} fontFamily={calibri} textAnchor="middle" fill="#111">FSC</text>

        {/* b */}
        <text x={793} y={39.3} fontSize={15} fontFamily={sans} textLength={163} lengthAdjust="spacingAndGlyphs" fill="#222">
          IL-17RB<Sup fs={15}>+</Sup><Down fs={15}> granulocytes</Down>
        </text>
        <Bars cats={bCats} vals={bVals} errTop={bErrTop} range={[785, 964.3]} y={by} barFill={["#060606", "#fff"]} axisX={776.7} axisRight={973.3} ticks={bTicks} minor={bMinor} fs={14.5} capHalf={20} star labelY={272.5} labelFs={13.8} />
        <text transform="translate(740.5,153) rotate(-90)" fontSize={14} fontFamily={sans} textAnchor="middle" fill="#222">Percentage of cells</text>

        {/* c */}
        {cLefts.map((l, i) => (
          <Histo key={i} left={l} iso={cIsoSeries[i]} red={cRedSeries[i]} label={cLabels[i]} labelX={cLabelX[i]} />
        ))}

        {/* d */}
        <text x={132.5} y={512.7} fontSize={14.5} fontFamily={sans} textLength={143} lengthAdjust="spacingAndGlyphs" fill="#222">
          17RB<Sup fs={14.5}>+</Sup><Down fs={14.5}> granulocytes</Down>
        </text>
        <Bars cats={dCats} vals={dVals} errTop={dErrTop} range={[115.7, 292.5]} y={dy} barFill={["#060606", "#fff"]} axisX={105.8} axisRight={301.5} ticks={dTicks} fs={14} capHalf={20} star labelY={746} labelFs={13.2} />
        <PctLabel x1={57} x2={74.5} cy={627} fs={13.6} len={186} />

        {/* e */}
        <text x={440} y={513} fontSize={15} fontFamily={sans} textLength={149} lengthAdjust="spacingAndGlyphs" fill="#222">
          17RB<Sup fs={15}>+</Sup><Down fs={15}> granulocytes</Down>
        </text>
        <Bars cats={eCats} vals={eVals} errTop={eErrTop} range={[422.6, 606.4]} y={ey} barFill={["#cdd5d3", "#3f4748"]} axisX={412.3} axisRight={615.4} ticks={eTicks} minor={eMinor} fs={14} capHalf={20.5} labelY={746} labelFs={13.4} />
        <PctLabel x1={360} x2={379} cy={623} fs={14} len={190} />

        {/* f1 */}
        <rect x={66} y={783.3} width={180.3} height={179.4} fill="#fff" stroke={FRAME} strokeWidth={1.2} />
        <g clipPath="url(#f1clip)">
          <g filter="url(#soft)">
            <path d={f1l(f1Low) as string} fill="url(#stippleMid)" />
            <path d={f1s(f1LowDark) as string} fill="url(#stippleDense)" />
            <path d={f1l(f1Dark) as string} fill="url(#stippleDense)" />
            <path d={f1l(f1BlackZone) as string} fill="url(#stippleBlack)" />
            <Dots data={f1Dots} x={f1x} y={f1y} />
          </g>
          <path d={f1l(f1Bridge) as string} fill="#fff" />
          <g filter="url(#softer)">
            <path d={d3.line<P>().x((d) => f1x(d[0])).y((d) => f1y(d[1]))(f1Edge) as string} fill="none" stroke="#111" strokeWidth={2} />
            <Contours rings={f1LowCluster} x={f1x} y={f1y} halo={false} color="#555" />
            <Contours rings={f1MidCluster} x={f1x} y={f1y} halo={false} color="#555" />
            <Contours rings={f1TopBand} x={f1x} y={f1y} heavy={[3]} halo={false} color="#444" />
            <Contours rings={f1GateCluster} x={f1x} y={f1y} heavy={[3]} halo={false} color="#333" />
          </g>
        </g>
        <path d="M102.3,783.3V930.7H246.3" fill="none" stroke="#555" strokeWidth={0.9} />
        <rect x={f1x(f1Gate.x[0])} y={f1y(f1Gate.y[1])} width={f1x(f1Gate.x[1]) - f1x(f1Gate.x[0])} height={f1y(f1Gate.y[0]) - f1y(f1Gate.y[1])} fill="none" stroke="#4c6fe3" strokeWidth={1.4} />
        <DecadeY y={f1y} x={102.3} labelX={96.7} fs={11.5} />
        <DecadeX x={f1x} y={930.7} labelY={948} fs={11.5} />
        <text transform="translate(76.5,856.7) rotate(-90)" fontSize={10.6} fontFamily={sans} textAnchor="middle" fill="#222">CD11b</text>
        <text x={173.3} y={959.3} fontSize={10.4} fontFamily={sans} textAnchor="middle" fill="#222">CD16</text>
        <text x={222} y={813.3} fontSize={10.4} fontFamily={sans} textAnchor="middle" letterSpacing={1} fill="#222">48</text>
        <LArrow x={50} y={980} top={926} right={115} />
        <text transform="translate(43.5,950) rotate(-90)" fontSize={20} fontFamily={calibri} textAnchor="middle" fill="#111">CD11b</text>
        <text x={79} y={1001.7} fontSize={20} fontFamily={calibri} textAnchor="middle" fill="#111">CD16</text>

        {/* arrow between */}
        <line x1={257} x2={290} y1={868} y2={868} stroke="#000" strokeWidth={2.4} />
        <polygon points="295,868 287,863.5 287,872.5" fill="#000" />

        {/* f2 */}
        <rect x={320.7} y={782.7} width={179.6} height={179.3} fill="#fff" stroke={FRAME} strokeWidth={1.2} />
        <g clipPath="url(#f2clip)">
          <g filter="url(#soft)">
            <path d={f2s(f2Scatter) as string} fill="url(#stippleSparse)" />
            <path d={f2s(f2HaloLeft) as string} fill="url(#stippleMid)" />
            <path d={f2s(f2HaloRight) as string} fill="url(#stippleMid)" />
            <path d={f2s(f2HaloUp) as string} fill="url(#stippleMid)" />
            <Dots data={f2Dots} x={f2x} y={f2y} />
          </g>
          <g filter="url(#softer)">
            <Contours rings={f2LeftCluster} x={f2x} y={f2y} color="#444" />
            <Contours rings={f2RightCluster} x={f2x} y={f2y} color="#555" />
            <Contours rings={f2UpperCluster} x={f2x} y={f2y} color="#444" />
          </g>
        </g>
        <path d="M356.7,782.7V930.7H500.3" fill="none" stroke="#555" strokeWidth={0.9} />
        <rect x={f2x(f2GateRed.x[0])} y={f2y(f2GateRed.y[1])} width={f2x(f2GateRed.x[1]) - f2x(f2GateRed.x[0])} height={f2y(f2GateRed.y[0]) - f2y(f2GateRed.y[1])} fill="none" stroke={RED} strokeWidth={2.4} />
        <rect x={f2x(f2GateBlack.x[0])} y={f2y(f2GateBlack.y[1])} width={f2x(f2GateBlack.x[1]) - f2x(f2GateBlack.x[0])} height={f2y(f2GateBlack.y[0]) - f2y(f2GateBlack.y[1])} fill="none" stroke="#111" strokeWidth={2.4} />
        <DecadeY y={f2y} x={356.7} labelX={351.7} fs={11.5} />
        <DecadeX x={f2x} y={930.7} labelY={948} fs={11.5} />
        <text transform="translate(331.5,854) rotate(-90)" fontSize={10.6} fontFamily={sans} textAnchor="middle" fill="#222">IL-17RB</text>
        <text x={428.3} y={958} fontSize={10.4} fontFamily={sans} textAnchor="middle" fill="#222">CD177</text>
        <text x={481.7} y={797.3} fontSize={10.4} fontFamily={sans} textAnchor="middle" letterSpacing={0.6} fill="#222">2.41</text>
        <text x={486.7} y={922.7} fontSize={10.4} fontFamily={sans} textAnchor="middle" letterSpacing={0.6} fill="#222">17.5</text>
        <LArrow x={304} y={980} top={926} right={369} />
        <text transform="translate(297.5,946) rotate(-90)" fontSize={20} fontFamily={calibri} textAnchor="middle" fill="#111">IL-17RB</text>
        <text x={338} y={1001.7} fontSize={20} fontFamily={calibri} textAnchor="middle" fill="#111">CD177</text>

        {/* brace */}
        <path d="M551,782C536,784 531,796 531,815V845C531,860 524,869 511,871.7C524,875 531,884 531,899V930C531,950 536,960 551,962.5" fill="none" stroke="#000" strokeWidth={2.8} />

        {/* f3 / f4 */}
        <FlowHist left={576.2} plotLeft={612.8} right={756.7} iso={il13Iso} black={il13Black} red={il13Red} label="IL-13" knots={[612.8, 628.7, 643.9, 678, 710.9, 743.3, 756.7]} />
        <FlowHist left={823.3} plotLeft={859.7} right={1003.5} iso={il4Iso} black={il4Black} red={il4Red} label="IL-4" knots={[859.7, 875.5, 890.6, 925.2, 958.3, 990, 1003.5]} />
        <LArrow x={560.6} y={980} top={926.7} right={624} />
        <LArrow x={807.5} y={980} top={926.7} right={871} />
        <text x={587} y={1001.7} fontSize={20} fontFamily={calibri} textAnchor="middle" fill="#111">IL-13</text>
        <text x={829} y={1001.7} fontSize={20} fontFamily={calibri} textAnchor="middle" fill="#111">IL-4</text>

        {/* legend */}
        <rect x={516.5} y={1019.5} width={23} height={23.5} fill="#cdd5d3" stroke="#b4c0bf" strokeWidth={1.8} />
        <text x={545.8} y={1037} fontSize={19.5} fontFamily={sans} fill="#111">Isotype</text>
        <rect x={624.5} y={1019.5} width={22} height={23.5} fill="#fff" stroke="#000" strokeWidth={2.4} />
        <text x={653} y={1037} fontSize={19} fontFamily={sans} fill="#111" textLength={157} lengthAdjust="spacingAndGlyphs">
          CD177<Sup fs={19}>+</Sup><Down fs={19}> IL-17RB</Down><Sup fs={19}>–</Sup>
        </text>
        <rect x={819.5} y={1019.5} width={22.5} height={23.5} fill="#fff" stroke="#e0161c" strokeWidth={2.4} />
        <text x={854.4} y={1037} fontSize={19} fontFamily={sans} fill="#111" textLength={155.5} lengthAdjust="spacingAndGlyphs">
          CD177<Sup fs={19}>+</Sup><Down fs={19}> IL-17RB</Down><Sup fs={19}>+</Sup>
        </text>
      </svg>
    </div>
  );
}
